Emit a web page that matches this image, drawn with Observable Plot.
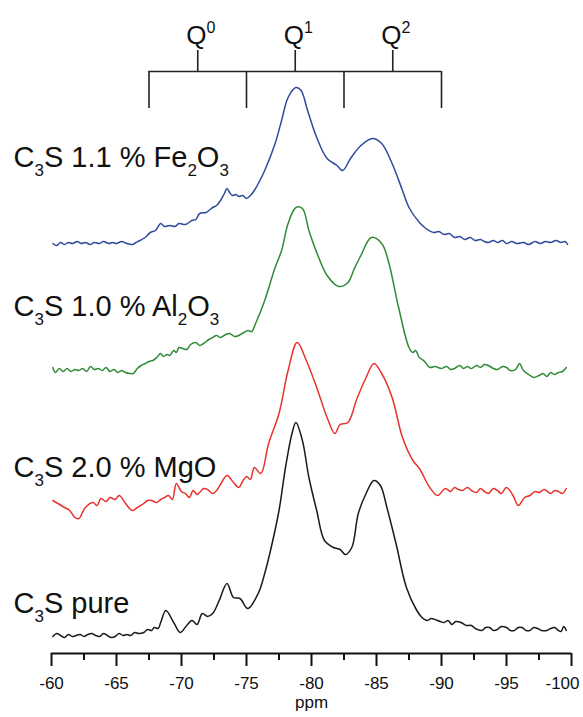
<!DOCTYPE html>
<html>
<head>
<meta charset="utf-8">
<script src="https://cdn.jsdelivr.net/npm/d3@7"></script>
<script src="https://cdn.jsdelivr.net/npm/@observablehq/plot@0.6"></script>
<style>
  html, body { margin: 0; padding: 0; background: #fff; }
  #chart { width: 583px; height: 717px; }
  svg { font-family: "Liberation Sans", Arial, sans-serif; }
</style>
</head>
<body>
<div id="chart"></div>
<script>
// ---------- data ----------
const seriesNames = ["C_{3}S 1.1 % Fe_{2}O_{3}", "C_{3}S 1.0 % Al_{2}O_{3}", "C_{3}S 2.0 % MgO", "C_{3}S pure"];
const seriesColors = ["#2f4a9c", "#2e8b35", "#e8322d", "#1a1a1a"];
// vertical offset of each stacked spectrum (arbitrary intensity units)
const seriesOffsets = [410, 283, 160, 23];

const ppmFe = [-60.1,-60.4,-60.7,-61,-61.3,-61.6,-62,-62.3,-62.6,-63,-63.3,-63.7,-64,-64.4,-64.7,-65,-65.4,-65.8,-66.2,-66.5,-66.8,-67.2,-67.6,-68,-68.4,-68.7,-69.1,-69.5,-69.8,-70.3,-70.8,-71.1,-71.4,-71.9,-72.2,-72.4,-72.7,-73,-73.3,-73.5,-73.7,-73.9,-74.2,-74.4,-74.7,-75,-75.3,-75.6,-76.4,-77.2,-77.7,-78.2,-78.8,-79.2,-79.7,-80.4,-81.2,-81.96,-82.4,-83,-83.8,-84.7,-85.4,-86.2,-87,-87.5,-88.3,-88.8,-89.4,-89.8,-90.2,-90.6,-91,-91.4,-91.8,-92.2,-92.6,-93,-93.3,-93.6,-94,-94.3,-94.7,-95,-95.4,-95.8,-96.3,-96.7,-97.2,-97.6,-98,-98.4,-98.8,-99.2,-99.5,-99.7];
const sigFe = [0,-2,1,-1,1,0,2,0,1,-1,1,0,2,0,1,0,2,0,-1,1,3,6,11,13,20,17,18,17,20,19,23,24,30,31,34,36,38,43,50,55,51,48,49,47,48,45,48,53,73,100,123,146,156,153,133,106,85,78,73,85,98,105,100,80,53,36,21,15,11,12,9,10,6,7,4,6,3,4,2,1,3,1,3,0,2,0,1,-1,2,0,2,1,3,1,2,-1];

const ppmAl = [-60.1,-60.3,-60.6,-60.9,-61.2,-61.5,-61.8,-62.1,-62.4,-62.7,-63,-63.3,-63.6,-63.9,-64.2,-64.5,-64.8,-65.1,-65.4,-65.7,-66,-66.3,-66.6,-66.9,-67.2,-67.5,-67.8,-68.1,-68.4,-68.6,-68.9,-69.1,-69.4,-69.6,-69.8,-70.1,-70.4,-70.7,-71.1,-71.4,-71.7,-72.1,-72.4,-72.7,-73,-73.4,-73.7,-74.1,-74.4,-74.8,-75.1,-75.4,-75.7,-76.4,-77.2,-77.7,-78.2,-78.8,-79.3,-79.8,-80.4,-81.2,-82.1,-82.8,-83.3,-83.8,-84.6,-85.4,-85.9,-86.7,-87.5,-87.8,-88,-88.3,-88.7,-89.1,-89.5,-90,-90.4,-90.7,-91,-91.4,-91.7,-92,-92.3,-92.7,-93,-93.3,-93.6,-94,-94.3,-94.7,-95,-95.3,-95.7,-96,-96.3,-96.7,-97.1,-97.5,-97.8,-98.1,-98.4,-98.7,-99,-99.3,-99.6];
const sigAl = [3,-2,2,-1,2,-1,1,0,2,-1,4,1,2,0,3,-1,1,-2,0,-2,-3,-3,2,5,7,9,10,13,17,14,16,15,20,18,23,22,21,26,28,25,27,31,33,35,33,36,37,34,35,38,40,39,47,70,103,120,147,163,162,140,118,95,84,88,102,115,133,127,110,63,23,18,20,13,9,3,4,2,4,1,2,5,2,4,2,5,3,6,5,2,1,4,3,0,1,7,0,-4,-7,-5,-3,-6,-2,-4,-2,-1,3];

const ppmMg = [-60.1,-60.5,-61,-61.4,-61.8,-62.1,-62.6,-63.2,-63.5,-63.8,-64.2,-64.5,-64.9,-65.2,-65.7,-66.2,-66.6,-67.1,-67.4,-67.7,-68.1,-68.4,-68.7,-69,-69.3,-69.6,-70,-70.3,-70.6,-70.9,-71.2,-71.4,-71.7,-72,-72.4,-72.7,-73,-73.5,-74,-74.4,-74.7,-75,-75.3,-75.6,-76.1,-76.7,-77.5,-78.2,-78.9,-79.6,-80.4,-81.2,-81.8,-82.2,-82.8,-83.5,-84.2,-84.8,-85.4,-86.2,-87,-87.8,-88.3,-89.1,-89.7,-90.3,-90.7,-91,-91.3,-91.6,-92,-92.3,-92.7,-93,-93.3,-93.6,-94,-94.3,-94.6,-95,-95.5,-95.9,-96.4,-96.8,-97.2,-97.5,-97.9,-98.4,-98.7,-99,-99.3,-99.6];
const sigMg = [-7,-10,-14,-17,-24,-25,-14,-9,-12,-5,-8,-4,-6,-2,-10,-17,-14,-10,-7,-7,-9,-6,-4,-2,-6,10,2,0,-4,3,-1,1,5,4,0,3,9,18,11,6,12,17,14,26,20,50,80,123,151,133,106,76,60,69,71,95,116,130,120,96,56,33,25,6,-2,5,2,6,4,3,6,3,1,5,2,0,5,3,0,6,-2,-12,-4,-2,2,1,4,0,3,2,0,5];

const ppmPure = [-60.1,-60.4,-60.7,-61,-61.3,-61.6,-61.9,-62.2,-62.5,-62.8,-63.1,-63.4,-63.7,-64,-64.3,-64.6,-64.9,-65.2,-65.5,-65.8,-66.1,-66.4,-66.7,-67.1,-67.4,-67.7,-67.9,-68.2,-68.4,-68.8,-69.4,-69.9,-70.4,-70.8,-71.2,-71.6,-72,-72.4,-72.9,-73.5,-74,-74.5,-75.1,-75.9,-76.4,-76.9,-77.5,-78,-78.5,-78.8,-79.3,-79.8,-80.4,-81,-81.7,-82.2,-82.6,-83.1,-83.6,-84.2,-84.8,-85.3,-85.8,-86.5,-87.3,-88.1,-88.5,-88.9,-89.2,-89.5,-89.9,-90.2,-90.5,-90.8,-91.1,-91.5,-91.9,-92.3,-92.6,-93.1,-93.4,-93.7,-94,-94.3,-94.6,-95,-95.3,-95.6,-95.9,-96.2,-96.5,-96.8,-97.1,-97.4,-97.7,-98.1,-98.4,-98.7,-99,-99.2,-99.4,-99.6];
const sigPure = [-6,-3,-5,-7,-4,-6,-5,-4,-6,-4,-3,-5,-6,-3,-5,-7,-6,-3,-5,-4,-5,-2,-3,-2,1,0,3,2,8,20,8,-2,5,10,6,17,14,17,30,47,33,32,22,37,57,83,120,163,197,208,190,153,120,90,83,81,76,83,117,137,150,145,123,87,43,20,13,10,12,11,9,8,10,6,9,8,5,5,2,0,3,3,0,1,4,3,0,0,3,3,0,0,3,2,0,0,2,3,0,-1,4,0];

const ppmAxis = { domain: [-60, -100], major: d3.range(-60, -100.1, -5), minor: d3.range(-62.5, -100, -5) };
// Q-region bracket boundaries (ppm) and labels
const qBounds = [-67.5, -75, -82.5, -90];
const qLabels = ["Q^{0}", "Q^{1}", "Q^{2}"];

// ---------- build table ----------
const ppmAll = [ppmFe, ppmAl, ppmMg, ppmPure];
const sigAll = [sigFe, sigAl, sigMg, sigPure];
const table = [];
seriesNames.forEach((name, i) => {
  ppmAll[i].forEach((p, j) => table.push({series: name, ppm: p, value: seriesOffsets[i] + sigAll[i][j]}));
});
const qCenters = qLabels.map((q, i) => ({label: q, ppm: (qBounds[i] + qBounds[i + 1]) / 2}));

// layout constants (intensity units == px)
const bracketY = 582, dropY = 545, stemY = 603;
const labelLift = [77, 55, 17, 18];
const seriesLabels = seriesNames.map((n, i) => ({label: n, y: seriesOffsets[i] + labelLift[i]}));
const lastTick = ppmAxis.major[ppmAxis.major.length - 1];

const chart = Plot.plot({
  width: 583,
  height: 717,
  marginLeft: 51,
  marginRight: 12,
  marginTop: 0,
  marginBottom: 64,
  style: {fontFamily: "'Liberation Sans', Arial, sans-serif", fontSize: "17px", color: "#111", background: "#fff"},
  x: {domain: ppmAxis.domain, axis: null},
  y: {domain: [0, 653], axis: null},
  color: {domain: seriesNames, range: seriesColors},
  marks: [
    Plot.axisX({ticks: ppmAxis.major, tickSize: 13, strokeWidth: 2, label: null, tickFormat: () => ""}),
    Plot.axisX({ticks: ppmAxis.minor, tickSize: 7, strokeWidth: 2, label: null, tickFormat: () => ""}),
    Plot.axisX({ticks: ppmAxis.major.slice(0, -1), tickSize: 0, tickPadding: 23, fontSize: 17, label: null, tickFormat: d => String(d)}),
    Plot.axisX({ticks: [lastTick], tickSize: 0, tickPadding: 23, dx: -9, fontSize: 17, label: null, tickFormat: d => String(d)}),
    Plot.ruleY([0], {stroke: "#111", strokeWidth: 2}),
    Plot.text(["ppm"], {frameAnchor: "bottom", dy: 54, fontSize: 17, fill: "#111"}),
    Plot.line(table, {x: "ppm", y: "value", z: "series", stroke: "series", strokeWidth: 1.5, curve: "catmull-rom"}),
    // bracket
    Plot.ruleY([bracketY], {x1: qBounds[0], x2: qBounds[qBounds.length - 1], stroke: "#222", strokeWidth: 1.6}),
    Plot.ruleX(qBounds, {y1: dropY, y2: bracketY, stroke: "#222", strokeWidth: 1.6}),
    Plot.ruleX(qCenters, {x: "ppm", y1: bracketY, y2: stemY, stroke: "#222", strokeWidth: 1.6}),
    Plot.text(qCenters, {x: "ppm", y: 610, text: "label", fontSize: 26, lineAnchor: "bottom", textAnchor: "middle", dx: 3, fill: "#111"}),
    // series labels
    Plot.text(seriesLabels, {frameAnchor: "left", dx: -38, y: "y", text: "label", fontSize: 29, textAnchor: "start", lineAnchor: "bottom", fill: "#111"})
  ]
});

// Turn _{..} and ^{..} markup into real sub/superscript tspans
d3.select(chart).selectAll("text").each(function() {
  const s = this.textContent;
  if (!/[_^]\{/.test(s)) return;
  const isQ = s.startsWith("Q");
  const subSize = isQ ? 16 : 17;
  const parts = [];
  const re = /([_^])\{([^}]*)\}|([^_^]+)/g;
  let m;
  while ((m = re.exec(s))) parts.push(m[3] !== undefined ? {t: m[3], k: ""} : {t: m[2], k: m[1]});
  this.textContent = "";
  let shift = 0;
  for (const p of parts) {
    const ts = d3.select(this).append("tspan").text(p.t);
    const target = p.k === "_" ? 9 : p.k === "^" ? -11 : 0;
    if (target !== shift) ts.attr("dy", target - shift);
    shift = target;
    if (p.k) ts.attr("font-size", subSize);
  }
});

document.getElementById("chart").appendChild(chart);
</script>
</body>
</html>
